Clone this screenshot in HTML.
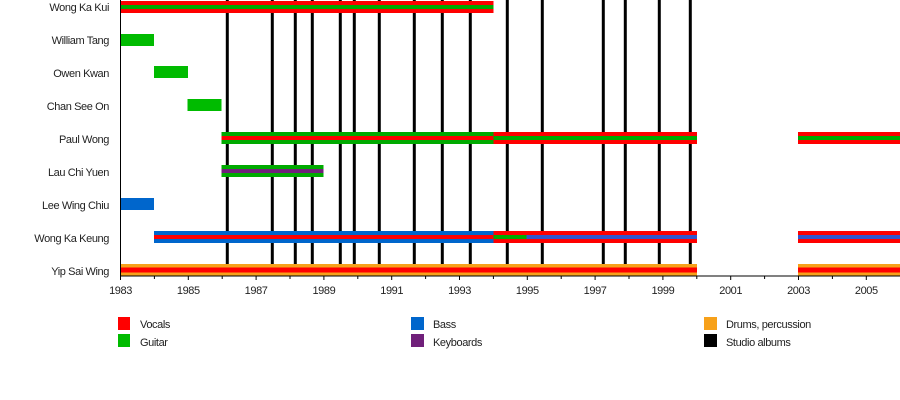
<!DOCTYPE html>
<html><head><meta charset="utf-8"><style>
body{margin:0;background:#fff;width:900px;height:400px;overflow:hidden}
svg{display:block}
text{font-family:"Liberation Sans",sans-serif;font-size:11px;fill:#222;letter-spacing:-0.4px}
</style></head><body>
<svg width="900" height="400" xmlns="http://www.w3.org/2000/svg">
<g stroke="#000" stroke-width="3">
<line x1="227.3" y1="0" x2="227.3" y2="264"/><line x1="272.3" y1="0" x2="272.3" y2="264"/>
<line x1="295.3" y1="0" x2="295.3" y2="264"/><line x1="312.3" y1="0" x2="312.3" y2="264"/>
<line x1="340.3" y1="0" x2="340.3" y2="264"/><line x1="354.3" y1="0" x2="354.3" y2="264"/>
<line x1="379.3" y1="0" x2="379.3" y2="264"/><line x1="414.3" y1="0" x2="414.3" y2="264"/>
<line x1="442.3" y1="0" x2="442.3" y2="264"/><line x1="470.3" y1="0" x2="470.3" y2="264"/>
<line x1="507.3" y1="0" x2="507.3" y2="264"/><line x1="542.3" y1="0" x2="542.3" y2="264"/>
<line x1="603.3" y1="0" x2="603.3" y2="264"/><line x1="625.3" y1="0" x2="625.3" y2="264"/>
<line x1="659.3" y1="0" x2="659.3" y2="264"/><line x1="690.3" y1="0" x2="690.3" y2="264"/>
</g>
<!-- Wong Ka Kui -->
<rect x="120.5" y="1" width="373" height="12" fill="#f00"/><rect x="120.5" y="5" width="373" height="4" fill="#0a0"/>
<!-- William Tang -->
<rect x="120.5" y="34" width="33.5" height="12" fill="#0b0"/>
<rect x="154" y="66" width="34" height="12" fill="#0b0"/>
<rect x="187.5" y="99" width="34" height="12" fill="#0b0"/>
<!-- Paul Wong -->
<rect x="221.5" y="132" width="272" height="12" fill="#0a0"/><rect x="221.5" y="136" width="272" height="4" fill="#f00"/>
<rect x="493.5" y="132" width="203.5" height="12" fill="#f00"/><rect x="493.5" y="136" width="203.5" height="4" fill="#0a0"/>
<rect x="798" y="132" width="102" height="12" fill="#f00"/><rect x="798" y="136" width="102" height="4" fill="#0a0"/>
<!-- Lau Chi Yuen -->
<rect x="221.5" y="165" width="102" height="12" fill="#0a0"/><rect x="221.5" y="169" width="102" height="4" fill="#70207a"/>
<!-- Lee Wing Chiu -->
<rect x="120.5" y="198" width="33.5" height="12" fill="#0066cc"/>
<!-- Wong Ka Keung -->
<rect x="154" y="231" width="339.5" height="12" fill="#0066cc"/><rect x="154" y="235" width="339.5" height="4" fill="#f00"/>
<rect x="493.5" y="231" width="203.5" height="12" fill="#f00"/><rect x="493.5" y="235" width="203.5" height="4" fill="#3355cc"/>
<rect x="493.5" y="235" width="33" height="4" fill="#0a0"/>
<rect x="798" y="231" width="102" height="12" fill="#f00"/><rect x="798" y="235" width="102" height="4" fill="#3355cc"/>
<!-- Yip Sai Wing -->
<rect x="120.5" y="264" width="576.5" height="12" fill="#f7a11a"/><rect x="120.5" y="267.5" width="576.5" height="5" fill="#f00"/>
<rect x="798" y="264" width="102" height="12" fill="#f7a11a"/><rect x="798" y="267.5" width="102" height="5" fill="#f00"/>
<!-- axes -->
<line x1="120.5" y1="0" x2="120.5" y2="276" stroke="#000" stroke-width="1"/>
<line x1="120" y1="276" x2="900" y2="276" stroke="#000" stroke-width="1"/>
<g stroke="#000" stroke-width="1">
<line x1="120.5" y1="276" x2="120.5" y2="280"/><line x1="154.4" y1="276" x2="154.4" y2="279"/>
<line x1="188.3" y1="276" x2="188.3" y2="280"/><line x1="222.2" y1="276" x2="222.2" y2="279"/>
<line x1="256.1" y1="276" x2="256.1" y2="280"/><line x1="290" y1="276" x2="290" y2="279"/>
<line x1="323.9" y1="276" x2="323.9" y2="280"/><line x1="357.8" y1="276" x2="357.8" y2="279"/>
<line x1="391.7" y1="276" x2="391.7" y2="280"/><line x1="425.6" y1="276" x2="425.6" y2="279"/>
<line x1="459.5" y1="276" x2="459.5" y2="280"/><line x1="493.4" y1="276" x2="493.4" y2="279"/>
<line x1="527.3" y1="276" x2="527.3" y2="280"/><line x1="561.2" y1="276" x2="561.2" y2="279"/>
<line x1="595.1" y1="276" x2="595.1" y2="280"/><line x1="629" y1="276" x2="629" y2="279"/>
<line x1="662.9" y1="276" x2="662.9" y2="280"/><line x1="696.8" y1="276" x2="696.8" y2="279"/>
<line x1="730.7" y1="276" x2="730.7" y2="280"/><line x1="764.6" y1="276" x2="764.6" y2="279"/>
<line x1="798.5" y1="276" x2="798.5" y2="280"/><line x1="832.4" y1="276" x2="832.4" y2="279"/>
<line x1="866.3" y1="276" x2="866.3" y2="280"/>
</g>
<g text-anchor="middle">
<text x="120.5" y="294">1983</text><text x="188.3" y="294">1985</text><text x="256.1" y="294">1987</text>
<text x="323.9" y="294">1989</text><text x="391.7" y="294">1991</text><text x="459.5" y="294">1993</text>
<text x="527.3" y="294">1995</text><text x="595.1" y="294">1997</text><text x="662.9" y="294">1999</text>
<text x="730.7" y="294">2001</text><text x="798.5" y="294">2003</text><text x="866.3" y="294">2005</text>
</g>
<g text-anchor="end">
<text x="109" y="11">Wong Ka Kui</text><text x="109" y="44">William Tang</text>
<text x="109" y="77">Owen Kwan</text><text x="109" y="110">Chan See On</text>
<text x="109" y="143">Paul Wong</text><text x="109" y="176">Lau Chi Yuen</text>
<text x="109" y="209">Lee Wing Chiu</text><text x="109" y="242">Wong Ka Keung</text>
<text x="109" y="275">Yip Sai Wing</text>
</g>
<rect x="118" y="317" width="12" height="13" fill="#f00"/><text x="140" y="328">Vocals</text>
<rect x="118" y="334" width="12" height="13" fill="#0b0"/><text x="140" y="346">Guitar</text>
<rect x="411" y="317" width="13" height="13" fill="#0066cc"/><text x="433" y="328">Bass</text>
<rect x="411" y="334" width="13" height="13" fill="#70207a"/><text x="433" y="346">Keyboards</text>
<rect x="704" y="317" width="13" height="13" fill="#f7a11a"/><text x="726" y="328">Drums, percussion</text>
<rect x="704" y="334" width="13" height="13" fill="#000"/><text x="726" y="346">Studio albums</text>
</svg>
</body></html>
